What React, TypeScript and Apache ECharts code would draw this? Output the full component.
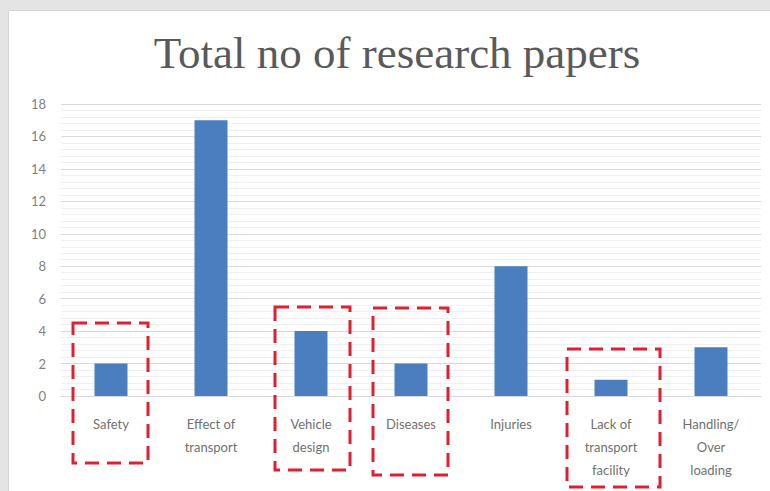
import React, { useEffect, useRef } from "react";
import * as echarts from "echarts";

const categories = [
  "Safety",
  "Effect of\ntransport",
  "Vehicle\ndesign",
  "Diseases",
  "Injuries",
  "Lack of\ntransport\nfacility",
  "Handling/\nOver\nloading",
];
const values = [2, 17, 4, 2, 8, 1, 3];
const titleText = "Total no of research papers";

export default function App() {
  const ref = useRef<HTMLDivElement>(null);
  useEffect(() => {
    if (!ref.current) return;
    const chart = echarts.init(ref.current, null, { renderer: "svg" });
    const dash = (x: number, y: number, w: number, h: number) => ({
      type: "rect",
      shape: { x, y, width: w, height: h },
      style: { fill: "none", stroke: "#e02030", lineWidth: 3, lineDash: [14, 8] },
      z: 100,
    });
    chart.setOption({
      animation: false,
      backgroundColor: "#ffffff",
      graphic: [
        { type: "rect", shape: { x: 0, y: 0, width: 770, height: 10 }, style: { fill: "#e4e4e4" }, z: -10 },
        { type: "rect", shape: { x: 0, y: 0, width: 8, height: 491 }, style: { fill: "#e4e4e4" }, z: -10 },
        { type: "rect", shape: { x: 8.5, y: 10.5, width: 770, height: 490 }, style: { fill: "#ffffff", stroke: "#d4d4d4", lineWidth: 1 }, z: -9 },
        {
          type: "text",
          x: 397,
          y: 53,
          style: {
            text: titleText,
            fontFamily: "Liberation Serif",
            fontSize: 45,
            fill: "#595959",
            align: "center",
            verticalAlign: "middle",
          },
        },
        dash(73, 323, 75, 140),
        dash(275, 307, 75, 163),
        dash(373, 308, 75, 167),
        dash(567, 349, 93, 138),
      ],
      grid: { left: 61, right: 9, top: 104, bottom: 95, containLabel: false },
      xAxis: {
        type: "category",
        data: categories,
        axisTick: { show: false },
        axisLine: { lineStyle: { color: "#d9d9d9", width: 1 } },
        axisLabel: {
          color: "#707070",
          fontFamily: "Lato",
          fontSize: 13,
          lineHeight: 23,
          margin: 16,
          interval: 0,
        },
      },
      yAxis: {
        type: "value",
        min: 0,
        max: 18,
        interval: 2,
        axisLine: { show: false },
        axisTick: { show: false },
        axisLabel: { color: "#7f7f7f", fontFamily: "Lato", fontSize: 13, margin: 15 },
        splitLine: { lineStyle: { color: "#d9d9d9", width: 1 } },
        minorTick: { show: false, splitNumber: 5 },
        minorSplitLine: { show: true, lineStyle: { color: "#f0f0f0", width: 1 } },
      },
      series: [
        {
          type: "bar",
          data: values,
          barWidth: 33,
          itemStyle: { color: "#4a7ebf" },
        },
      ],
    });
    return () => chart.dispose();
  }, []);
  return (
    <div
      ref={ref}
      style={{ position: "absolute", left: 0, top: 0, width: 770, height: 491 }}
    />
  );
}
